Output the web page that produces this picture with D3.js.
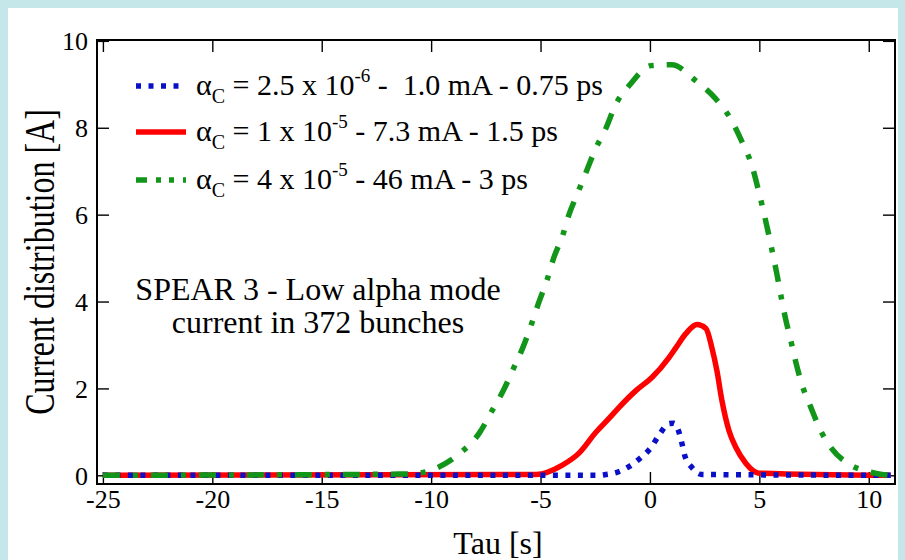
<!DOCTYPE html>
<html><head><meta charset="utf-8">
<script src="https://cdn.jsdelivr.net/npm/d3@7"></script>
<style>
html,body{margin:0;padding:0;background:#c6e7e9;}
svg{display:block;}
text{font-family:"Liberation Serif","Times New Roman",serif;fill:#000;white-space:pre;}
</style></head>
<body>
<svg id="chart" width="905" height="560"></svg>
<script>
// ---- data ----
const xTicks = [-25, -20, -15, -10, -5, 0, 5, 10];
const yTicks = [0, 2, 4, 6, 8, 10];

const blueTau = [-25, -2.3, -2.0, -1.5, -0.96, -0.41, 0.05, 0.41, 0.87, 1.1, 1.28, 1.46, 1.6, 1.92, 2.37, 11];
const blueVal = [0, 0, 0.02, 0.07, 0.2, 0.41, 0.64, 0.92, 1.19, 1.2, 1.06, 0.74, 0.44, 0.18, 0.02, 0];

const redTau = [-25, -5.2, -4.02, -3.24, -2.47, -1.87, -1.42, -0.64, 0.09, 0.87, 1.19, 1.64, 2.15, 2.56, 2.83, 3.06, 3.29, 3.61, 3.93, 4.38, 4.98, 11];
const redVal = [0, 0.02, 0.23, 0.51, 0.99, 1.31, 1.56, 1.95, 2.25, 2.71, 2.94, 3.26, 3.47, 3.38, 2.94, 2.41, 1.72, 1.03, 0.64, 0.28, 0.05, 0];

const greenTau = [-25, -11.0, -9.7, -8.7, -7.8, -7.2, -6.7, -6.2, -5.8, -5.4, -5.1, -4.7, -4.4, -4.0, -3.7, -3.3, -2.9, -2.5, -2.0, -1.6, -0.9, 0.05, 1.0, 2.1, 3.0, 3.74, 4.25, 4.66, 4.93, 5.16, 5.39, 5.6, 5.8, 6.0, 6.2, 6.44, 6.67, 6.94, 7.35, 7.8, 8.3, 9.2, 10.1, 10.6, 11];
const greenVal = [0, 0.03, 0.18, 0.5, 0.97, 1.5, 1.95, 2.5, 2.95, 3.5, 3.95, 4.5, 5.0, 5.5, 6.0, 6.5, 7.0, 7.5, 8.0, 8.5, 9.0, 9.43, 9.45, 9.08, 8.67, 8.16, 7.63, 7.13, 6.62, 6.14, 5.63, 5.13, 4.64, 4.1, 3.6, 3.1, 2.6, 2.1, 1.57, 1.03, 0.62, 0.23, 0.07, 0.02, 0];

const legendAlpha = ["2.5 x 10", "1 x 10", "4 x 10"];
const legendExp = ["-6", "-5", "-5"];
const legendRest = [" -  1.0 mA - 0.75 ps", " - 7.3 mA - 1.5 ps", " - 46 mA - 3 ps"];
const noteLines = ["SPEAR 3 - Low alpha mode", "current in 372 bunches"];
const xTitle = "Tau [s]";
const yTitle = "Current distribution [A]";

// ---- layout ----
const svg = d3.select("#chart");
svg.append("rect").attr("x", 8).attr("y", 8).attr("width", 890).attr("height", 560).attr("fill", "#fff");

const L = 97, R = 895, T = 40, B = 484;
const x = d3.scaleLinear().domain([-25.27, 11.2]).range([L, R]);
const y = d3.scaleLinear().domain([-0.2, 10.02]).range([B, T]);

const tickLen = 12;
const g = svg.append("g");

const axB = d3.axisBottom(x).tickValues(xTicks).tickSize(-tickLen).tickPadding(6).tickFormat(d => d < 0 ? "-" + Math.abs(d) : String(d));
const axT = d3.axisTop(x).tickValues(xTicks).tickSize(-tickLen).tickFormat("");
const axL = d3.axisLeft(y).tickValues(yTicks).tickSize(-tickLen).tickPadding(9).tickFormat(d3.format("d"));
const axR = d3.axisRight(y).tickValues(yTicks).tickSize(-tickLen).tickFormat("");

function styleAx(sel){
  sel.select(".domain").remove();
  sel.selectAll(".tick line").attr("stroke", "#000").attr("stroke-width", 1.4);
  sel.selectAll(".tick text").style("font-family", "'Liberation Serif',serif").style("font-size", "26px").attr("fill", "#000");
}
g.append("g").attr("transform", `translate(0,${B})`).call(axB).call(styleAx);
g.append("g").attr("transform", `translate(0,${T})`).call(axT).call(styleAx);
g.append("g").attr("transform", `translate(${L},0)`).call(axL).call(styleAx)
  .selectAll(".tick text").attr("dy", "0.34em");
g.append("g").attr("transform", `translate(${R},0)`).call(axR).call(styleAx);

g.append("rect").attr("x", L).attr("y", T).attr("width", R - L).attr("height", B - T)
  .attr("fill", "none").attr("stroke", "#000").attr("stroke-width", 2);

// ---- series ----
const line = d3.line().x(d => x(d[0])).y(d => y(d[1])).curve(d3.curveMonotoneX);
const zip = (a, b) => a.map((v, i) => [v, b[i]]);

const styles = {
  red:   {color: "#ff0000", dash: null, w: 5.5},
  blue:  {color: "#0a10c8", dash: "5,7.5", w: 5.5},
  green: {color: "#12961a", dash: "17,13,5,13", w: 5.5}
};

const plot = svg.append("g");
plot.append("path").datum(zip(redTau, redVal)).attr("d", line).attr("fill", "none")
  .attr("stroke", styles.red.color).attr("stroke-width", styles.red.w);
plot.append("path").datum(zip(blueTau, blueVal)).attr("d", line).attr("fill", "none")
  .attr("stroke", styles.blue.color).attr("stroke-width", styles.blue.w).attr("stroke-dasharray", styles.blue.dash);
plot.append("path").datum(zip(greenTau, greenVal)).attr("d", line).attr("fill", "none")
  .attr("stroke", styles.green.color).attr("stroke-width", styles.green.w).attr("stroke-dasharray", styles.green.dash);

// ---- legend ----
const legStyles = [styles.blue, styles.red, styles.green];
const legDash = ["5,7.5", null, "11,9,5,8,5,9"];
const legY = [86, 132, 180];
legStyles.forEach((s, i) => {
  const ly = legY[i];
  const ln = svg.append("line").attr("x1", 136).attr("x2", 186).attr("y1", ly).attr("y2", ly)
    .attr("stroke", s.color).attr("stroke-width", 5.5);
  if (legDash[i]) ln.attr("stroke-dasharray", legDash[i]);
  const t = svg.append("text").attr("x", 196).attr("y", ly + 9).style("font-size", "30px");
  t.append("tspan").text("α");
  t.append("tspan").attr("dy", 8).style("font-size", "20px").text("C");
  t.append("tspan").attr("dy", -8).text(" = " + legendAlpha[i]);
  t.append("tspan").attr("dy", -13).style("font-size", "19px").text(legendExp[i]);
  t.append("tspan").attr("dy", 13).text(legendRest[i]);
});

// ---- annotation ----
noteLines.forEach((s, i) => {
  svg.append("text").attr("x", 318).attr("y", 300 + i * 33).attr("text-anchor", "middle")
    .style("font-size", "32px").text(s);
});

// ---- axis titles ----
svg.append("text").attr("x", 498).attr("y", 554).attr("text-anchor", "middle").style("font-size", "32px").text(xTitle);
svg.append("text").attr("transform", `translate(54,262) rotate(-90) scale(1,1.3)`).attr("text-anchor", "middle")
  .style("font-size", "32px").text(yTitle);
</script>
</body></html>
